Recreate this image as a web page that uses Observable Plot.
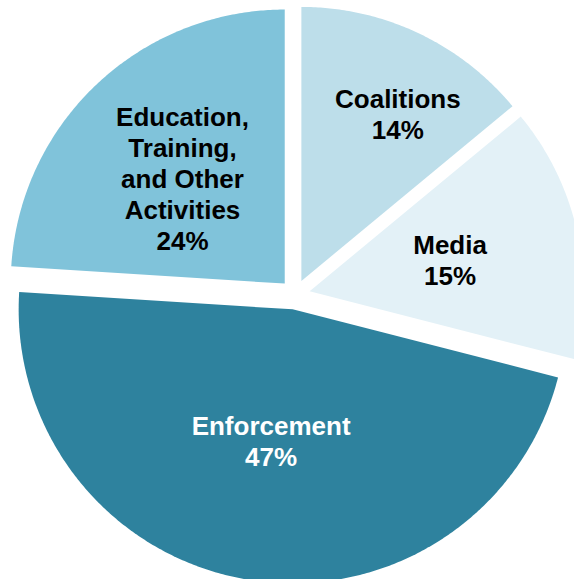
<!DOCTYPE html>
<html>
<head>
<meta charset="utf-8">
<script src="https://cdn.jsdelivr.net/npm/d3@7"></script>
<script src="https://cdn.jsdelivr.net/npm/@observablehq/plot@0.6"></script>
<style>
  html, body { margin: 0; padding: 0; background: #fff; }
  #chart svg { display: block; }
</style>
</head>
<body>
<div id="chart"></div>
<script>
// ---- data ----
const categories = ["Coalitions", "Media", "Enforcement", "Education, Training, and Other Activities"];
const labelLines = ["Coalitions", "Media", "Enforcement", "Education,\nTraining,\nand Other\nActivities"];
const shares = [14, 15, 47, 24];

// ---- styles / layout ----
const sliceColors = ["#bddeea", "#e3f1f7", "#2e829e", "#80c3da"];
const textColors = ["#000000", "#000000", "#ffffff", "#000000"];
const W = 574, H = 579;
const cx = 294.5, cy = 294;      // pie centre in pixels
const R = 274;                   // radius in pixels
const explode = 15;              // slice offset
const labelRadius = [0.76, 0.58, 0.54, 0.59];
const labelAngleShift = [4.4, 0, 0.3, -0.9]; // degrees

const pie = d3.pie().sort(null).value(d => d)(shares);
const deg = Math.PI / 180;

// polygon points for each slice (y up, units = pixels)
const pts = [];
pie.forEach((p, i) => {
  const mid = (p.startAngle + p.endAngle) / 2;
  const ox = explode * Math.sin(mid), oy = explode * Math.cos(mid);
  pts.push({key: categories[i], color: sliceColors[i], x: ox, y: oy});
  const steps = Math.ceil((p.endAngle - p.startAngle) / (0.5 * deg));
  for (let k = 0; k <= steps; k++) {
    const a = p.startAngle + (p.endAngle - p.startAngle) * k / steps;
    pts.push({key: categories[i], color: sliceColors[i], x: ox + R * Math.sin(a), y: oy + R * Math.cos(a)});
  }
  pts.push({key: categories[i], color: sliceColors[i], x: ox, y: oy});
});

const labels = pie.map((p, i) => {
  const mid = (p.startAngle + p.endAngle) / 2 + labelAngleShift[i] * deg;
  const r = labelRadius[i] * R;
  return {
    text: labelLines[i] + "\n" + shares[i] + "%",
    x: r * Math.sin(mid),
    y: r * Math.cos(mid),
    color: textColors[i]
  };
});

const chart = Plot.plot({
  width: W,
  height: H,
  margin: 0,
  style: {overflow: "hidden", background: "#fff"},
  x: {domain: [-cx, W - cx], axis: null},
  y: {domain: [-(H - cy), cy], axis: null},
  color: {type: "identity"},
  marks: [
    Plot.line(pts, {x: "x", y: "y", z: "key", fill: "color", stroke: null, curve: "linear"}),
    Plot.text(labels, {
      x: "x", y: "y", text: "text", fill: "color",
      fontSize: 26, fontWeight: "bold",
      fontFamily: "'Liberation Sans', Arial, Helvetica, sans-serif",
      lineHeight: 1.19, textAnchor: "middle"
    })
  ]
});
document.getElementById("chart").appendChild(chart);
</script>
</body>
</html>
